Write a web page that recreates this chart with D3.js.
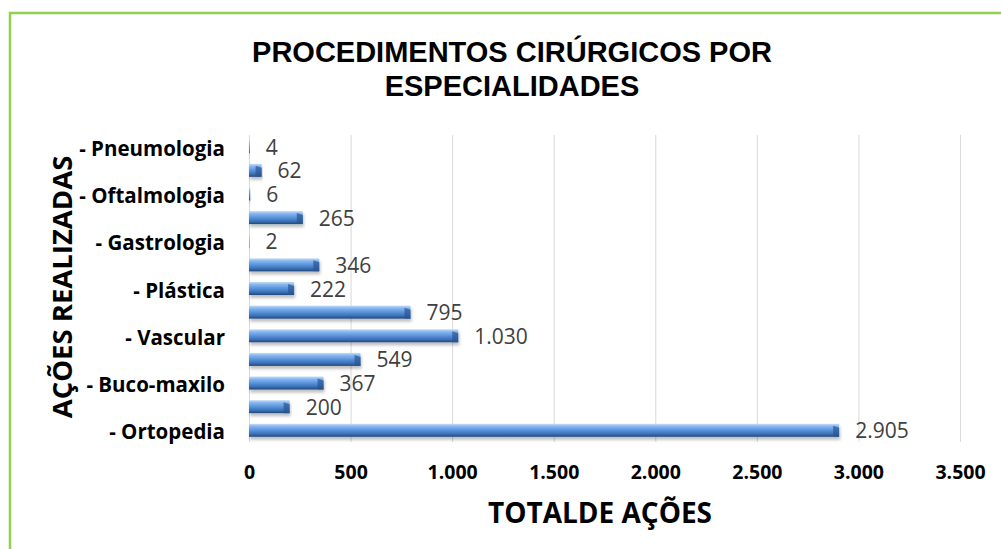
<!DOCTYPE html>
<html>
<head>
<meta charset="utf-8">
<script src="https://cdn.jsdelivr.net/npm/d3@7"></script>
<style>
  body { margin: 0; background: #fff; }
  svg { display: block; }
</style>
</head>
<body>
<div id="graph"></div>
<script>
// procedimentos cirurgicos por especialidade - barras horizontais

// categories from bottom to top (Excel order). Only every other name is
// printed on the axis in the original, the others are hidden there.
var categorias = ['- Ortopedia', '- Geral', '- Buco-maxilo', '- Urologia',
                  '- Vascular', '- Ginecologia', '- Plástica', '- Neurologia',
                  '- Gastrologia', '- Otorrino', '- Oftalmologia', '- Mastologia',
                  '- Pneumologia'];
var valores = [2905, 200, 367, 549, 1030, 795, 222, 346, 2, 265, 6, 62, 4];
var ticksX = [0, 500, 1000, 1500, 2000, 2500, 3000, 3500];

var titulo = ['PROCEDIMENTOS CIRÚRGICOS POR', 'ESPECIALIDADES'];
var tituloX = 'TOTALDE AÇÕES';
var tituloY = 'AÇÕES REALIZADAS';

var w = 1001, h = 549;
var plot = {left: 249, right: 960, top: 135, bottom: 442};

var vis = d3.select("#graph").append("svg")
  .attr("width", w).attr("height", h);

// brazilian number format (1.030)
var br = d3.formatLocale({decimal: ",", thousands: ".", grouping: [3], currency: ["R$", ""]});
var fmt = br.format(",");

var dados = categorias.map((c, i) => ({cat: c, val: valores[i], i: i}));

var x = d3.scaleLinear().domain([0, 3500]).range([plot.left, plot.right]);
var y = d3.scaleBand()
  .domain(categorias.slice().reverse())
  .range([plot.top, plot.bottom])
  .paddingInner(0.45).paddingOuter(0.22);

var defs = vis.append("defs");
var grad = defs.append("linearGradient").attr("id", "barra")
  .attr("x1", 0).attr("y1", 0).attr("x2", 0).attr("y2", 1);
grad.append("stop").attr("offset", "0%").attr("stop-color", "#c3dcf8");
grad.append("stop").attr("offset", "20%").attr("stop-color", "#86b6ee");
grad.append("stop").attr("offset", "50%").attr("stop-color", "#5893dc");
grad.append("stop").attr("offset", "78%").attr("stop-color", "#3b71b5");
grad.append("stop").attr("offset", "100%").attr("stop-color", "#21477e");

var sombra = defs.append("filter").attr("id", "sombra")
  .attr("x", "-5%").attr("y", "-50%").attr("width", "110%").attr("height", "220%");
sombra.append("feDropShadow").attr("dx", 1).attr("dy", 3)
  .attr("stdDeviation", 1.8).attr("flood-color", "#000").attr("flood-opacity", 0.25);

// green frame, it runs off the right and bottom of the picture
vis.append("rect")
  .attr("x", 10).attr("y", 13).attr("width", w).attr("height", h)
  .attr("fill", "none").attr("stroke", "#92D050").attr("stroke-width", 2.5);

// title
vis.append("g").selectAll("text")
  .data(titulo).enter().append("text")
  .attr("x", 512).attr("y", (d, i) => 62 + i * 34)
  .attr("text-anchor", "middle")
  .style("font-family", "'Liberation Sans', Arial, sans-serif")
  .style("font-weight", "bold").style("font-size", "29px")
  .text(d => d);

// vertical grid lines
vis.append("g").selectAll("line")
  .data(ticksX).enter().append("line")
  .attr("x1", d => x(d) + 0.5).attr("x2", d => x(d) + 0.5)
  .attr("y1", plot.top).attr("y2", plot.bottom)
  .attr("stroke", "#d9d9d9").attr("stroke-width", 1);

// x axis tick labels
var axX = d3.axisBottom(x).tickValues(ticksX).tickFormat(fmt).tickSize(0).tickPadding(0);
var gx = vis.append("g").attr("transform", "translate(0," + 479 + ")").call(axX);
gx.select(".domain").remove();
gx.selectAll("text")
  .attr("y", 0).attr("dy", 0)
  .style("font-family", "'Open Sans', sans-serif")
  .style("font-weight", "bold").style("font-size", "19.5px")
  .attr("fill", "#000");

// y axis: only every other name is shown
var axY = d3.axisLeft(y)
  .tickValues(categorias.filter((c, i) => i % 2 == 0))
  .tickSize(0).tickPadding(0);
var gy = vis.append("g").attr("transform", "translate(225,0)").call(axY);
gy.select(".domain").remove();
gy.selectAll("text")
  .attr("x", 0).attr("dy", "9px")
  .style("font-family", "'Open Sans', sans-serif")
  .style("font-weight", "bold").style("font-size", "20.5px")
  .attr("fill", "#000");

// bars
var bars = vis.append("g").selectAll("g")
  .data(dados).enter().append("g");

bars.append("rect")
  .attr("x", x(0))
  .attr("y", d => y(d.cat))
  .attr("width", d => x(d.val) - x(0))
  .attr("height", y.bandwidth())
  .attr("fill", "url(#barra)")
  .attr("filter", "url(#sombra)");

// bevelled end of each bar
bars.filter(d => x(d.val) - x(0) > 8).append("path")
  .attr("d", d => {
    var xe = x(d.val), y0 = y(d.cat), bh = y.bandwidth();
    return "M" + (xe - 6) + "," + (y0 + 2) + "L" + xe + "," + (y0 + 4)
      + "L" + xe + "," + (y0 + bh) + "L" + (xe - 6) + "," + (y0 + bh) + "Z";
  })
  .attr("fill", "#2a5490").attr("opacity", 0.7);

// data labels
bars.append("text")
  .attr("x", d => x(d.val) + 16)
  .attr("y", d => y(d.cat) + y.bandwidth() / 2 + 8)
  .style("font-family", "'Open Sans', sans-serif")
  .style("font-size", "21px")
  .attr("fill", "#404040")
  .text(d => fmt(d.val));

// axis titles
vis.append("text")
  .attr("x", 600).attr("y", 523)
  .attr("text-anchor", "middle")
  .style("font-family", "'Open Sans', sans-serif")
  .style("font-weight", "bold").style("font-size", "28px")
  .text(tituloX);

vis.append("text")
  .attr("transform", "translate(72,287) rotate(-90)")
  .attr("text-anchor", "middle")
  .style("font-family", "'Open Sans', sans-serif")
  .style("font-weight", "bold").style("font-size", "27.5px")
  .text(tituloY);
</script>
</body>
</html>
